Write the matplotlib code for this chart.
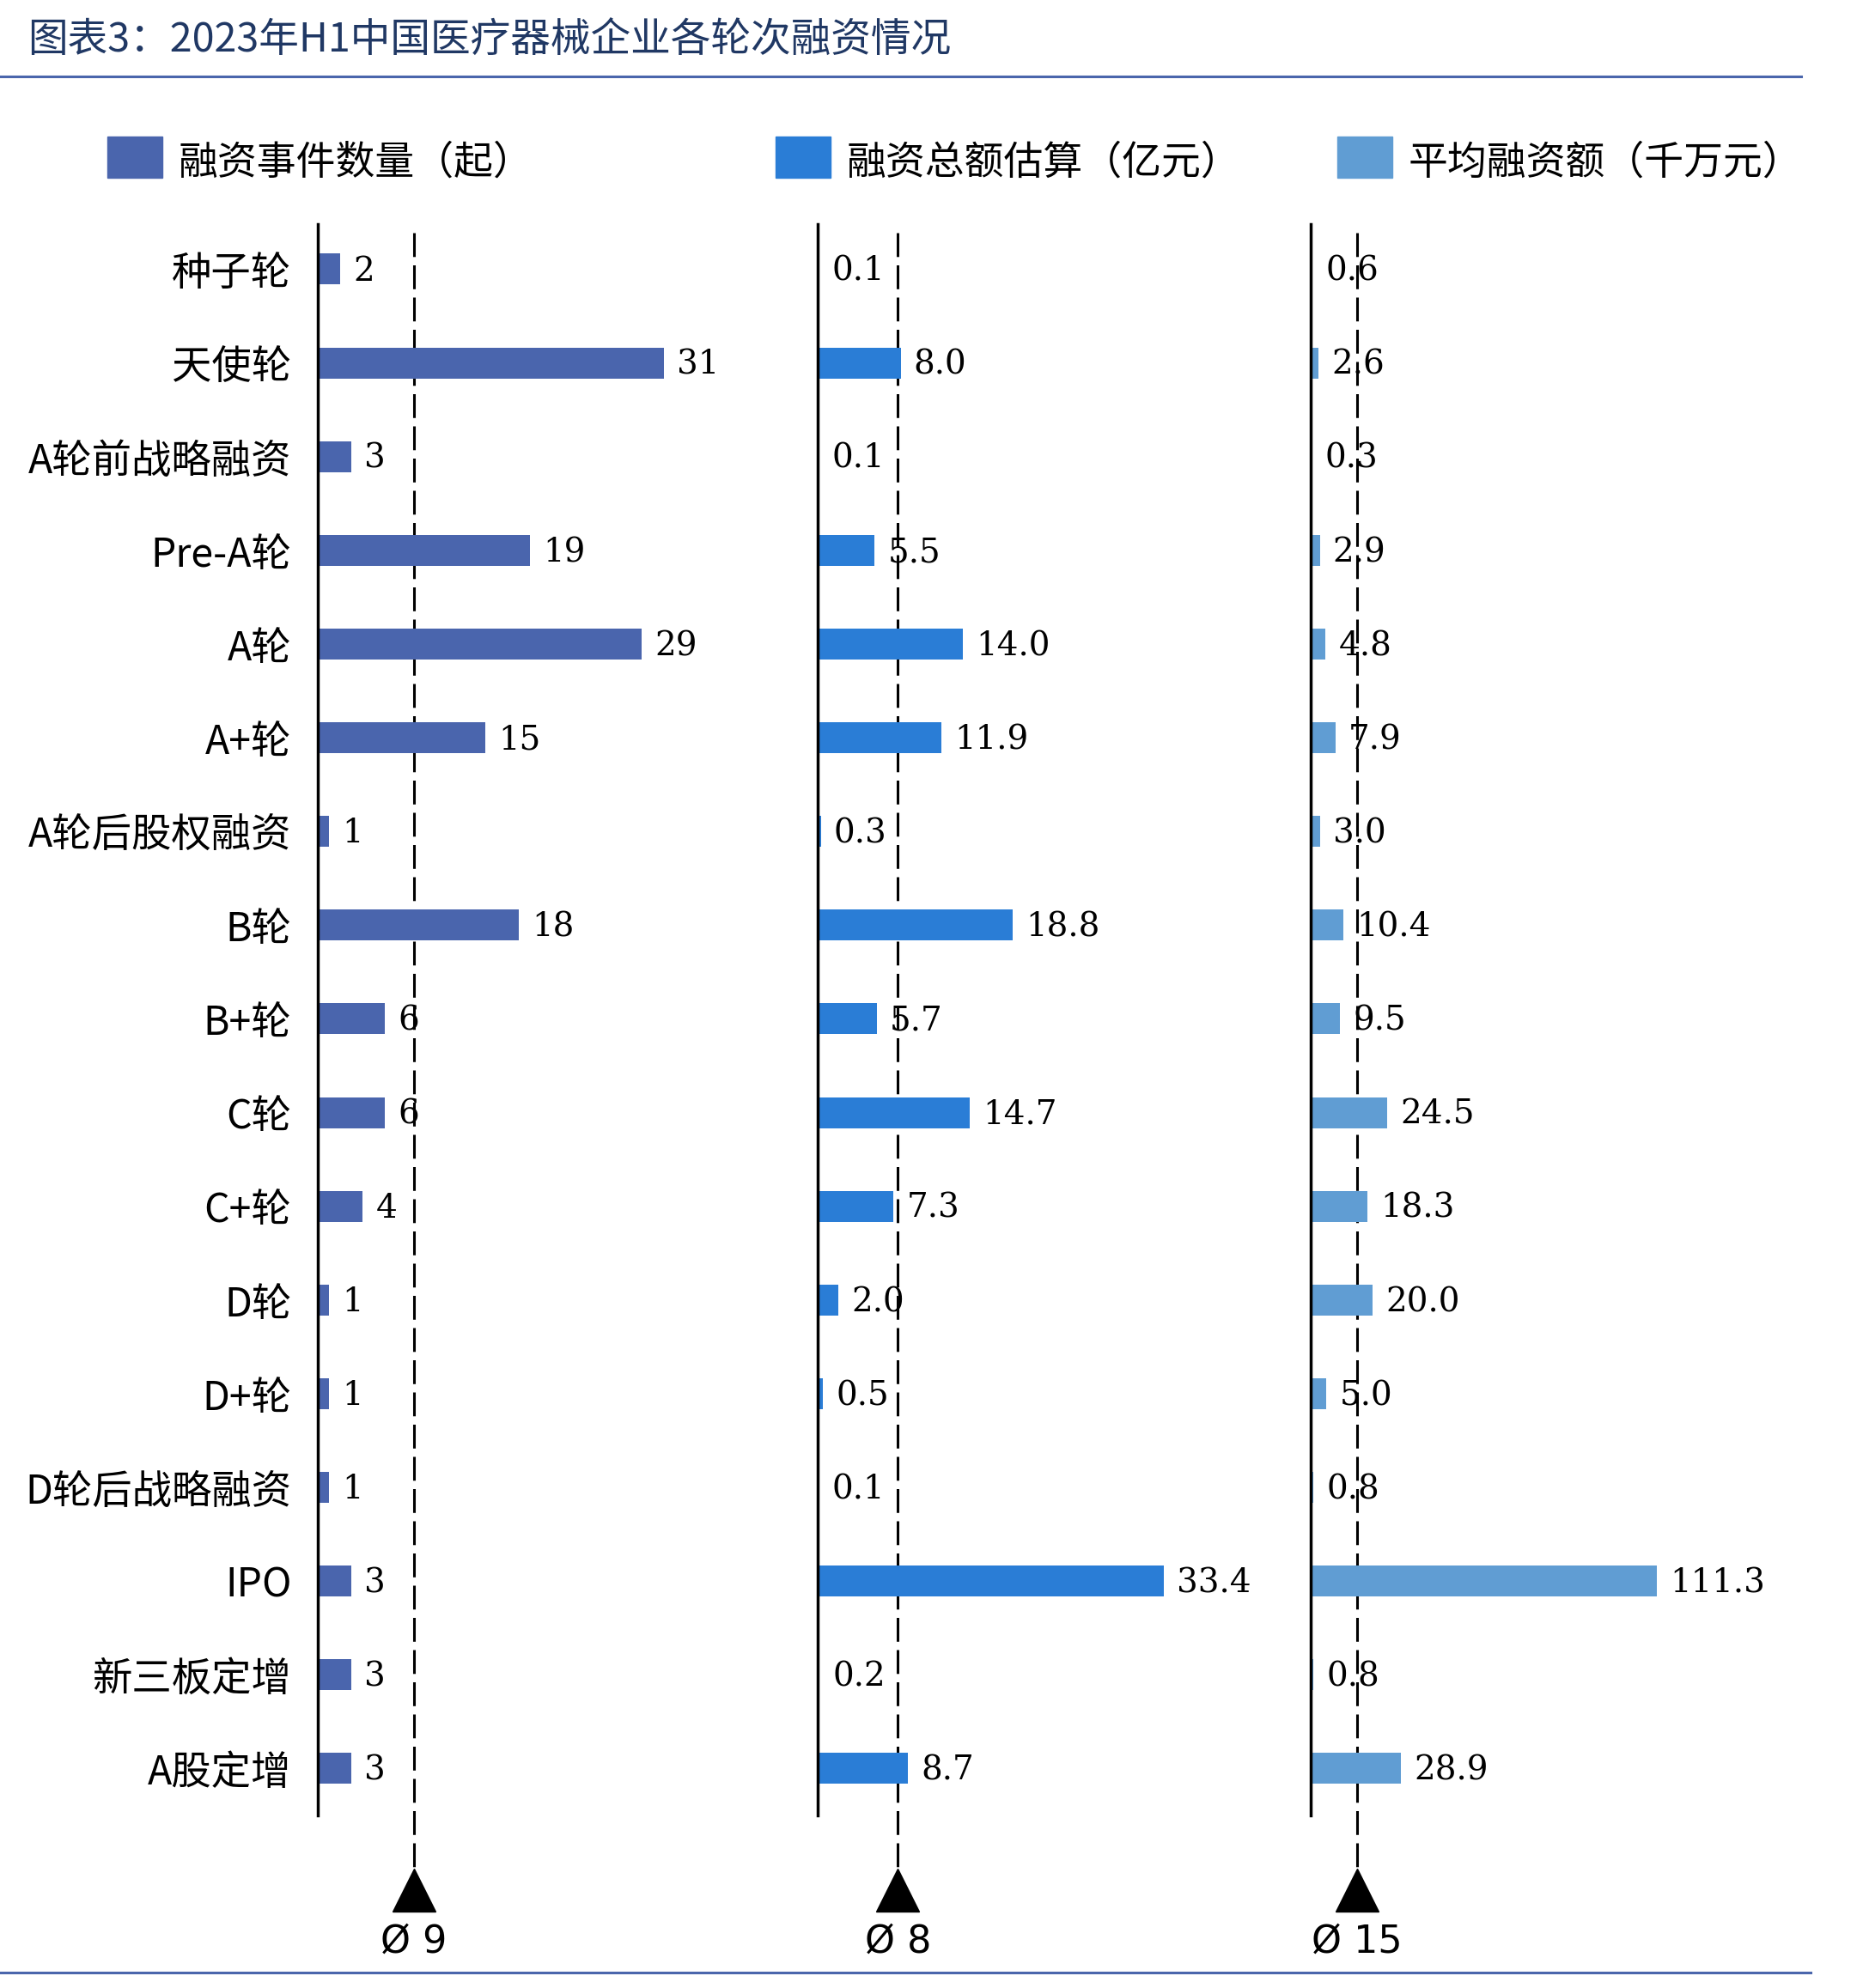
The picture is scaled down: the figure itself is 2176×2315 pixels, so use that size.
import matplotlib
matplotlib.use("Agg")
import matplotlib.pyplot as plt
from matplotlib.lines import Line2D
from matplotlib.patches import Rectangle
import numpy as np

plt.rcParams['font.family'] = ['Noto Sans CJK SC', 'DejaVu Sans']
plt.rcParams['lines.scale_dashes'] = False

# data
rounds = ['种子轮', '天使轮', 'A轮前战略融资', 'Pre-A轮', 'A轮', 'A+轮', 'A轮后股权融资',
          'B轮', 'B+轮', 'C轮', 'C+轮', 'D轮', 'D+轮', 'D轮后战略融资', 'IPO',
          '新三板定增', 'A股定增']
counts = [2, 31, 3, 19, 29, 15, 1, 18, 6, 6, 4, 1, 1, 1, 3, 3, 3]
amounts = [0.1, 8.0, 0.1, 5.5, 14.0, 11.9, 0.3, 18.8, 5.7, 14.7, 7.3, 2.0, 0.5, 0.1, 33.4, 0.2, 8.7]
averages = [0.6, 2.6, 0.3, 2.9, 4.8, 7.9, 3.0, 10.4, 9.5, 24.5, 18.3, 20.0, 5.0, 0.8, 111.3, 0.8, 28.9]

series_names = ['融资事件数量（起）', '融资总额估算（亿元）', '平均融资额（千万元）']
colors = ['#4A65AD', '#2A7DD6', '#609DD3']
fmts = ['{:.0f}', '{:.1f}', '{:.1f}']

W, H = 2176, 2315
fig = plt.figure(figsize=(W / 100, H / 100), dpi=100)

# title + rules
fig.text(32 / W, 1 - 48 / H, '图表3：2023年H1中国医疗器械企业各轮次融资情况',
         fontsize=33.6, color='#203864', va='center', ha='left')
fig.add_artist(Line2D([0, 2097 / W], [1 - 89 / H] * 2, color='#4A66AC', lw=2.2,
                      transform=fig.transFigure))
fig.add_artist(Line2D([0, 2108 / W], [1 - 2297 / H] * 2, color='#4A66AC', lw=2.2,
                      transform=fig.transFigure))

# legend
leg_patch_x = [125, 903, 1557]
for px, name, c in zip(leg_patch_x, series_names, colors):
    fig.add_artist(Rectangle((px / W, 1 - 207 / H), 64 / W, 48 / H, color=c,
                             transform=fig.transFigure))
    fig.text((px + 83) / W, 1 - 189 / H, name, fontsize=33, va='center', ha='left')

panel_left = [370, 952, 1526]
ax_w = 480
bar_px = 403
y = np.arange(len(rounds))

for i, (vals, c, fmt, left) in enumerate(zip([counts, amounts, averages], colors, fmts, panel_left)):
    ax = fig.add_axes([left / W, 1 - 2114 / H, ax_w / W, (2114 - 261) / H])
    vmax = max(vals)
    ax.set_xlim(0, vmax * ax_w / bar_px)
    ax.set_ylim(16.5, -0.48)
    ax.barh(y, vals, height=0.33, color=c, zorder=2)
    for yi, v in zip(y, vals):
        ax.annotate(fmt.format(v), (v, yi), xytext=(11, -2), textcoords='offset points',
                    va='center', ha='left', fontsize=28, family='DejaVu Serif', zorder=3)
    m = np.mean(vals)
    ax.plot([m, m], [-0.39, 17.05], color='black', lw=2.2, dashes=(20, 7),
            clip_on=False, zorder=1)
    ax.plot([m], [17.3], marker='^', ms=36, color='black', clip_on=False)
    ax.text(m, 17.85, 'Ø {:.0f}'.format(m), fontsize=32, ha='center', va='center',
            family=['DejaVu Sans'])
    for s in ['top', 'right', 'bottom']:
        ax.spines[s].set_visible(False)
    ax.spines['left'].set_linewidth(2.5)
    ax.set_xticks([])
    ax.set_yticks(y)
    ax.tick_params(axis='y', length=0, pad=22)
    if i == 0:
        ax.set_yticklabels(rounds, fontsize=33.4)
    else:
        ax.set_yticklabels([])

fig.savefig('out.png', dpi=100)
